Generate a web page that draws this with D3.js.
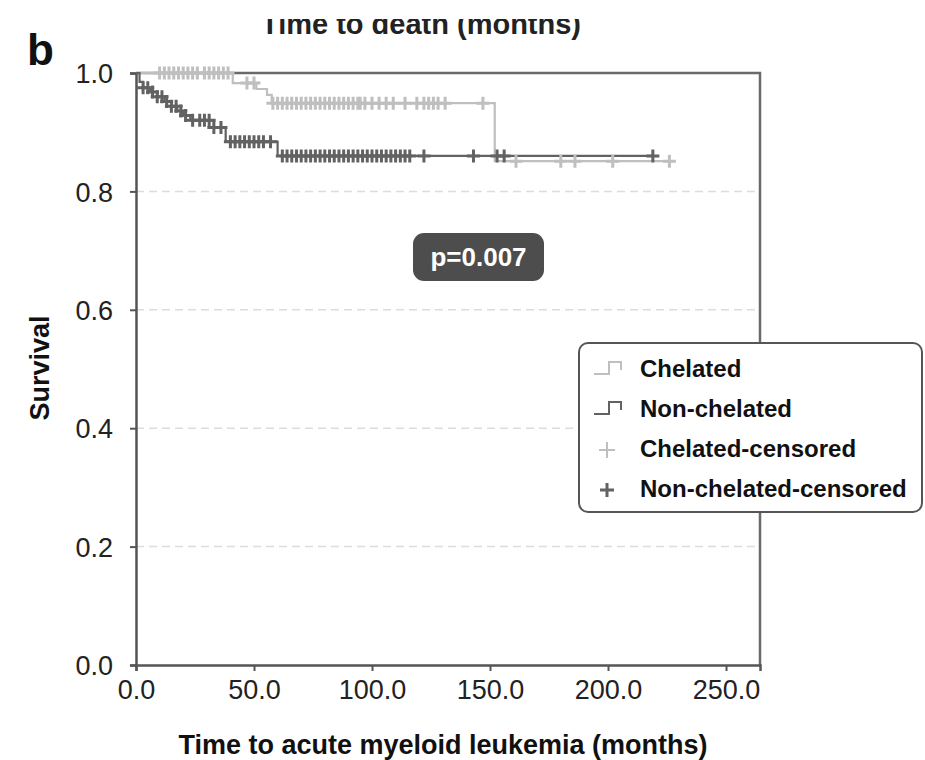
<!DOCTYPE html>
<html>
<head>
<meta charset="utf-8">
<script src="https://cdn.jsdelivr.net/npm/d3@7"></script>
<style>
  body { margin: 0; background: #fff; }
  svg text { font-family: "Liberation Sans", Arial, Helvetica, sans-serif; }
</style>
</head>
<body>
<div id="chart"></div>
<script>
// Kaplan-Meier steps: [time (months), survival after event]
var chelatedSteps = [[0, 1.0], [41, 0.983], [51, 0.973], [55.5, 0.963], [57.5, 0.949], [152, 0.851]];
var nonChelatedSteps = [[0, 1.0], [1.5, 0.985], [3, 0.975], [6, 0.968], [9, 0.96], [12, 0.952],
  [15, 0.944], [17.5, 0.936], [20, 0.928], [23, 0.92], [33, 0.908], [38, 0.884], [60, 0.86]];

// censored observations (months)
var chelatedCensored = [10, 12, 14, 16, 18, 20, 22, 24, 26, 29, 31, 33, 35, 37, 39,
  47, 50,
  58, 60, 62, 64, 66, 68, 70, 72, 74, 76, 78, 80, 82, 84, 86, 88, 90, 92, 94, 95, 97,
  100, 103, 106, 109, 114, 119, 122, 124, 126, 128, 131, 147,
  161, 180, 186, 202, 226];
var nonChelatedCensored = [3, 5, 7, 9, 11, 13, 15, 17, 19, 21, 24, 27, 29, 31, 33, 36, 40,
  42, 44, 46, 48, 50, 52, 54, 57,
  62, 64, 66, 68, 70, 72, 74, 76, 78, 80, 82, 84, 86, 88, 90, 92, 94, 96, 98, 100,
  102, 104, 106, 108, 110, 112, 114, 116, 122, 143, 153, 156, 219];

var xTicks = [0, 50, 100, 150, 200, 250];
var yTicks = [0, 0.2, 0.4, 0.6, 0.8, 1.0];
var legendLabels = ["Chelated", "Non-chelated", "Chelated-censored", "Non-chelated-censored"];

var light = "#bfbfbf", dark = "#626262";

var W = 925, H = 760;
var svg = d3.select("#chart").append("svg").attr("width", W).attr("height", H);

var x = d3.scaleLinear().domain([0, 264.4]).range([136, 760]);
var y = d3.scaleLinear().domain([0, 1]).range([665, 73]);

// cut-off title above
svg.append("defs").append("clipPath").attr("id", "topclip")
  .append("rect").attr("x", 0).attr("y", 19).attr("width", W).attr("height", 40);
svg.append("text")
  .attr("clip-path", "url(#topclip)")
  .attr("x", 421).attr("y", 34)
  .attr("text-anchor", "middle")
  .attr("font-size", 29).attr("font-weight", "bold").attr("fill", "#222")
  .text("Time to death (months)");

svg.append("text")
  .attr("x", 27).attr("y", 65)
  .attr("font-size", 44).attr("font-weight", "bold").attr("fill", "#111")
  .text("b");

// gridlines
svg.append("g").selectAll("line")
  .data(yTicks.filter(d => d > 0 && d < 1))
  .enter().append("line")
  .attr("x1", x(0)).attr("x2", x.range()[1])
  .attr("y1", d => y(d)).attr("y2", d => y(d))
  .attr("stroke", "#dcdcdc").attr("stroke-width", 1.5)
  .attr("stroke-dasharray", "8,5");

// top and right border
svg.append("path")
  .attr("d", "M" + x(0) + "," + y(1) + "H" + x.range()[1] + "V" + y(0))
  .attr("fill", "none").attr("stroke", "#6a6a6a").attr("stroke-width", 2.5);

// axes
var xAxis = svg.append("g")
  .attr("transform", "translate(0," + y(0) + ")")
  .call(d3.axisBottom(x).tickValues(xTicks).tickFormat(d3.format(".1f")).tickSize(6).tickPadding(9));
var yAxis = svg.append("g")
  .attr("transform", "translate(" + x(0) + ",0)")
  .call(d3.axisLeft(y).tickValues(yTicks).tickFormat(d3.format(".1f")).tickSize(6).tickPadding(17));

[xAxis, yAxis].forEach(function (g) {
  g.select(".domain").attr("stroke", "#555").attr("stroke-width", 2.5);
  g.selectAll(".tick line").attr("stroke", "#555").attr("stroke-width", 2);
  g.selectAll(".tick text").attr("font-size", 27).attr("fill", "#222")
    .attr("font-family", "'Liberation Sans', Arial, sans-serif");
});
yAxis.selectAll(".tick text").attr("dy", "0.36em");

// axis titles
svg.append("text")
  .attr("x", 443).attr("y", 754)
  .attr("text-anchor", "middle")
  .attr("font-size", 27).attr("font-weight", "bold").attr("fill", "#111")
  .text("Time to acute myeloid leukemia (months)");
svg.append("text")
  .attr("transform", "translate(49,368) rotate(-90)")
  .attr("text-anchor", "middle")
  .attr("font-size", 27).attr("font-weight", "bold").attr("fill", "#111")
  .text("Survival");

// survival curves
var line = d3.line().x(d => x(d[0])).y(d => y(d[1])).curve(d3.curveStepAfter);
function survAt(steps, t) {
  var s = 1;
  steps.forEach(function (p) { if (p[0] <= t) s = p[1]; });
  return s;
}
function drawCurve(steps, censored, color) {
  var end = d3.max(censored);
  var pts = steps.concat([[end, survAt(steps, end)]]);
  svg.append("path").datum(pts)
    .attr("d", line)
    .attr("fill", "none").attr("stroke", color).attr("stroke-width", 2.2);
}
function drawCensors(steps, censored, color) {
  svg.append("g").selectAll("path")
    .data(censored)
    .enter().append("path")
    .attr("transform", d => "translate(" + x(d) + "," + y(survAt(steps, d)) + ")")
    .attr("d", "M-6.5,0H6.5M0,-6.5V6.5")
    .attr("stroke", color).attr("stroke-width", 3).attr("fill", "none");
}
drawCurve(chelatedSteps, chelatedCensored, light);
drawCurve(nonChelatedSteps, nonChelatedCensored, dark);
drawCensors(chelatedSteps, chelatedCensored, light);
drawCensors(nonChelatedSteps, nonChelatedCensored, dark);

// p-value badge
svg.append("rect")
  .attr("x", 413).attr("y", 233).attr("width", 131).attr("height", 48)
  .attr("rx", 11).attr("fill", "#4d4d4d");
svg.append("text")
  .attr("x", 478.5).attr("y", 266)
  .attr("text-anchor", "middle")
  .attr("font-size", 26).attr("font-weight", "bold").attr("fill", "#fff")
  .text("p=0.007");

// legend
var legend = svg.append("g");
legend.append("rect")
  .attr("x", 579).attr("y", 343).attr("width", 343).attr("height", 169)
  .attr("rx", 9).attr("fill", "#fff").attr("stroke", "#555").attr("stroke-width", 2);
var rowY = d3.scalePoint().domain(legendLabels).range([368, 488]);
var legendColor = [light, dark, light, dark];
legendLabels.forEach(function (lab, i) {
  var cy = rowY(lab);
  if (i < 2) {
    legend.append("path")
      .attr("d", "M594," + (cy + 6) + "H609V" + (cy - 6) + "H621V" + (cy + 2))
      .attr("fill", "none").attr("stroke", legendColor[i]).attr("stroke-width", 2);
  } else {
    legend.append("path")
      .attr("transform", "translate(607," + (cy + 2) + ")")
      .attr("d", i === 2 ? "M-8,0H8M0,-8V8" : "M-7,0H7M0,-7V7")
      .attr("fill", "none").attr("stroke", legendColor[i]).attr("stroke-width", i === 2 ? 2 : 3);
  }
  legend.append("text")
    .attr("x", 640).attr("y", cy + 9)
    .attr("font-size", 24).attr("font-weight", "bold").attr("fill", "#111")
    .text(lab);
});
</script>
</body>
</html>
